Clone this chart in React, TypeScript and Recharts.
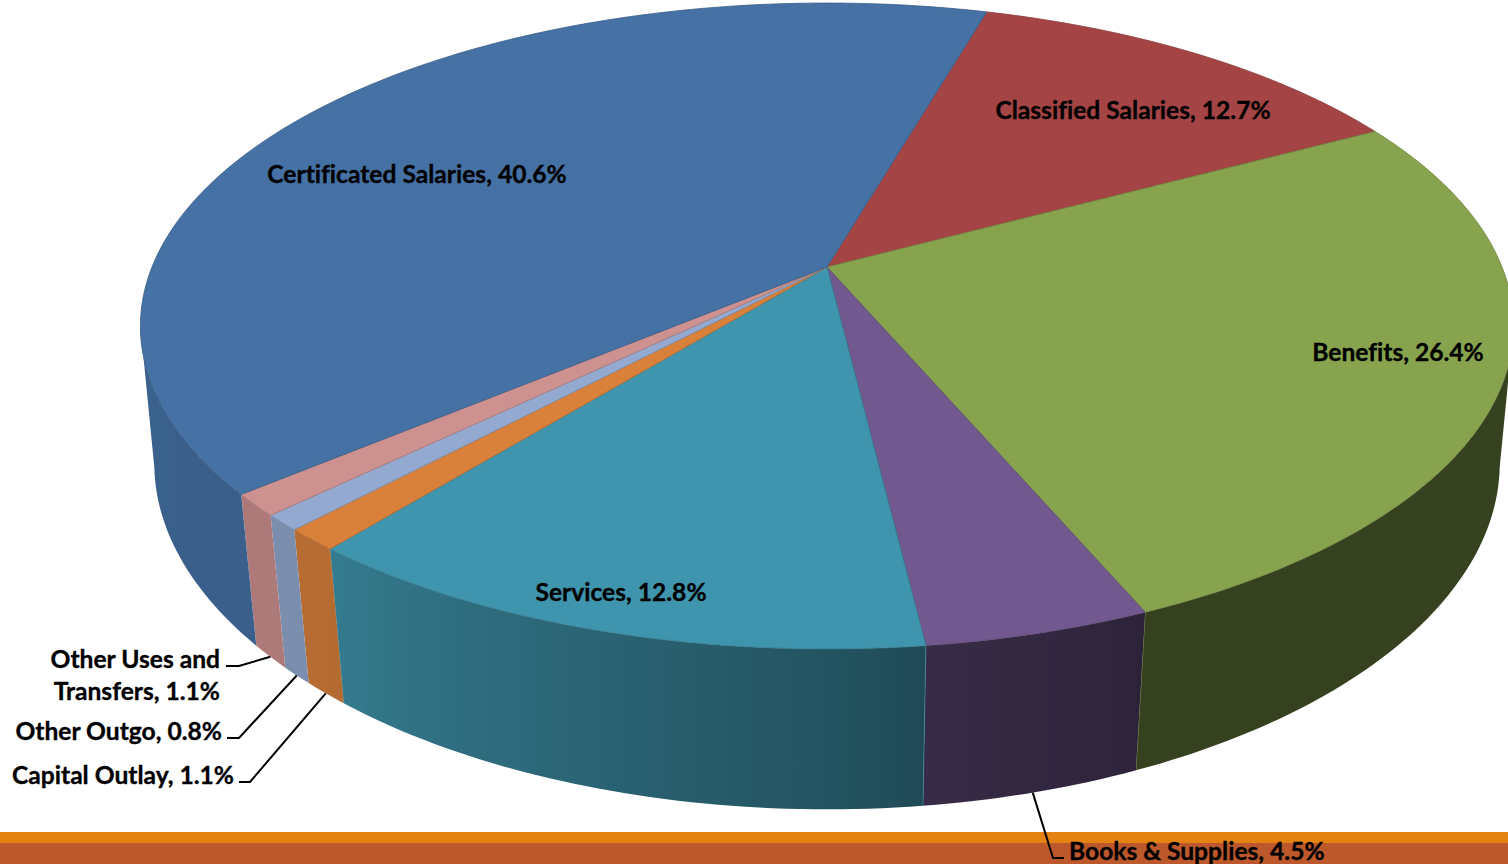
import React from 'react';
import { PieChart, Pie } from 'recharts';

// Expenditure shares, in drawing order clockwise from the first slice.
const CATEGORIES = [
  'Classified Salaries',
  'Benefits',
  'Books & Supplies',
  'Services',
  'Capital Outlay',
  'Other Outgo',
  'Other Uses and Transfers',
  'Certificated Salaries',
];
const SHARES = [12.7, 26.4, 4.5, 12.8, 1.1, 0.8, 1.1, 40.6];
const FACE_COLOURS = ['#A54445', '#87A34E', '#71588F', '#3F95AD', '#D9813B', '#93A9CF', '#CD9190', '#4571A5'];

const rows = CATEGORIES.map((name, i) => ({ name, value: SHARES[i], fill: FACE_COLOURS[i] }));

// Viewing geometry of the tilted disc.
const WIDTH = 1508;
const HEIGHT = 864;
const HUB_X = 827;
const HUB_Y = 267;
const RADIUS = 675;
const FLATTEN = 0.4625;
const PERSPECTIVE = -0.1827;
const BASE_SCALE_X = 0.982;
const BASE_TAPER_X = 0.012;
const BASE_SCALE_Y = 1.059;
const BASE_DROP = 137.8;
const ARC_STEP = 1;
const FIRST_ANGLE = 73.85;

// Wall is visible between the two silhouette angles of the rim.
const WALL_VISIBLE_FROM = -10.53;
const WALL_VISIBLE_TO = -169.47;
const WALL_GRADIENT_STOPS = 14;

// Side wall brightness by clockwise angle from twelve o'clock.
const WALL_SHADE: [number, number][] = [
  [0, 0.4],
  [157, 0.4],
  [158, 0.41],
  [173, 0.49],
  [174, 0.52],
  [218, 0.81],
  [220, 0.84],
  [360, 0.87],
];
const EDGED_WALLS = new Set(['Benefits', 'Services']);

const LABEL_FONT = 'Lato, "Open Sans", sans-serif';
const LABEL_SIZE = 24.6;
const LINE_GAP = 32;

type LabelSpot = { x: number; y: number; anchor: 'start' | 'middle' | 'end'; leader?: [number, number][] };
const LABEL_SPOTS: Record<string, LabelSpot> = {
  'Certificated Salaries': { x: 417, y: 173, anchor: 'middle' },
  'Classified Salaries': { x: 1133, y: 109, anchor: 'middle' },
  Benefits: { x: 1398, y: 351, anchor: 'middle' },
  Services: { x: 621, y: 591, anchor: 'middle' },
  'Other Uses and Transfers': { x: 220, y: 658, anchor: 'end', leader: [[239, 666], [226, 666]] },
  'Other Outgo': { x: 222, y: 730, anchor: 'end', leader: [[239, 738], [227, 738]] },
  'Capital Outlay': { x: 234, y: 774, anchor: 'end', leader: [[250, 782], [239, 782]] },
  'Books & Supplies': { x: 1069, y: 850, anchor: 'start', leader: [[1053, 858], [1064, 858]] },
};

const topPoint = (angle: number): [number, number] => {
  const rad = (angle * Math.PI) / 180;
  const u = Math.cos(rad);
  const v = -Math.sin(rad);
  const d = 1 + PERSPECTIVE * v;
  return [HUB_X + (RADIUS * u) / d, HUB_Y + (RADIUS * FLATTEN * v) / d];
};

const basePoint = (angle: number): [number, number] => {
  const [x, y] = topPoint(angle);
  const v = -Math.sin((angle * Math.PI) / 180);
  const scaleX = BASE_SCALE_X - BASE_TAPER_X * v;
  return [HUB_X + scaleX * (x - HUB_X), HUB_Y + BASE_DROP + BASE_SCALE_Y * (y - HUB_Y)];
};

const shadeAt = (angle: number): number => {
  const clockwise = ((90 - angle) % 360 + 360) % 360;
  for (let i = 1; i < WALL_SHADE.length; i++) {
    const [a0, s0] = WALL_SHADE[i - 1];
    const [a1, s1] = WALL_SHADE[i];
    if (clockwise <= a1) return s0 + ((s1 - s0) * (clockwise - a0)) / (a1 - a0);
  }
  return WALL_SHADE[WALL_SHADE.length - 1][1];
};

const darken = (hex: string, factor: number): string => {
  const n = parseInt(hex.slice(1), 16);
  const c = [(n >> 16) & 255, (n >> 8) & 255, n & 255].map((v) => Math.round(v * factor));
  return `rgb(${c[0]},${c[1]},${c[2]})`;
};

const arcAngles = (start: number, end: number, step = ARC_STEP): number[] => {
  const count = Math.max(1, Math.ceil(Math.abs(end - start) / step));
  return Array.from({ length: count + 1 }, (_, i) => start + ((end - start) * i) / count);
};

const pt = (p: [number, number]) => `${p[0].toFixed(2)},${p[1].toFixed(2)}`;

// Top face of a slice: a wedge from the hub along the projected rim.
const FaceShape = (props: any) => {
  const { startAngle, endAngle, payload } = props;
  const fill = payload?.fill ?? props.fill;
  const rim = arcAngles(startAngle, endAngle).map((a) => pt(topPoint(a)));
  const d = `M${HUB_X},${HUB_Y}L${rim.join('L')}Z`;
  return <path d={d} fill={fill} stroke={darken(fill, 0.82)} strokeWidth={0.8} strokeLinejoin="round" />;
};

// Side wall of a slice: the band between rim and base, shaded left to right.
const WallShape = (props: any) => {
  const { startAngle, endAngle, payload } = props;
  const fill = payload?.fill ?? props.fill;
  const name = payload?.name ?? props.name;
  const from = Math.min(startAngle, WALL_VISIBLE_FROM);
  const to = Math.max(endAngle, WALL_VISIBLE_TO);
  if (from <= to) return <g />;

  const angles = arcAngles(from, to);
  const rim = angles.map((a) => pt(topPoint(a)));
  const base = angles.map((a) => pt(basePoint(a))).reverse();
  const d = `M${rim.join('L')}L${base.join('L')}Z`;

  const midX = (a: number) => (topPoint(a)[0] + basePoint(a)[0]) / 2;
  const sweep = (from - to) / (WALL_GRADIENT_STOPS - 1);
  const stopAngles = Array.from({ length: WALL_GRADIENT_STOPS }, (_, i) => from - i * sweep);
  const xs = stopAngles.map(midX);
  const x0 = Math.min(...xs);
  const x1 = Math.max(...xs);
  const stops = stopAngles
    .map((a) => ({ offset: (midX(a) - x0) / (x1 - x0 || 1), colour: darken(fill, shadeAt(a)) }))
    .sort((p, q) => p.offset - q.offset);
  const id = `wall-${name.replace(/[^a-z]/gi, '')}`;

  const edges = EDGED_WALLS.has(name)
    ? [startAngle, endAngle]
        .filter((a) => a <= WALL_VISIBLE_FROM && a >= WALL_VISIBLE_TO)
        .map((a) => (
          <path key={`e${a}`} d={`M${pt(topPoint(a))}L${pt(basePoint(a))}`} stroke={fill} strokeOpacity={0.6} strokeWidth={1} />
        ))
    : null;

  return (
    <g>
      <defs>
        <linearGradient id={id} gradientUnits="userSpaceOnUse" x1={x0} x2={x1} y1={0} y2={0}>
          {stops.map((s, i) => (
            <stop key={i} offset={s.offset} stopColor={s.colour} />
          ))}
        </linearGradient>
      </defs>
      <path d={d} fill={`url(#${id})`} />
      {edges}
    </g>
  );
};

const labelLines = (name: string, value: number): string[] =>
  name === 'Other Uses and Transfers'
    ? ['Other Uses and', `Transfers, ${value}%`]
    : [`${name}, ${value}%`];

const SliceLabel = (props: any) => {
  const name = CATEGORIES[props.index];
  const value = SHARES[props.index];
  const spot = LABEL_SPOTS[name];
  const points = spot.leader ? [basePoint(props.midAngle), ...spot.leader] : null;
  return (
    <g>
      {points && <polyline points={points.map(pt).join(' ')} fill="none" stroke="#000" strokeWidth={2} />}
      {labelLines(name, value).map((line, i) => (
        <text
          key={line}
          x={spot.x}
          y={spot.y + i * LINE_GAP}
          textAnchor={spot.anchor}
          dominantBaseline="central"
          fontFamily={LABEL_FONT}
          fontWeight={700}
          fontSize={LABEL_SIZE}
          fill="#000"
          stroke="#000"
          strokeWidth={0.35}
          style={{ fontVariantLigatures: 'none' }}
        >
          {line}
        </text>
      ))}
    </g>
  );
};

export default function App() {
  return (
    <div style={{ position: 'absolute', left: 0, top: 0, width: WIDTH, height: HEIGHT, background: '#fff', overflow: 'hidden' }}>
      <div style={{ position: 'absolute', left: 0, top: 832, width: WIDTH, height: 11, background: '#E48312' }} />
      <div style={{ position: 'absolute', left: 0, top: 843, width: WIDTH, height: 21, background: '#BD582C' }} />
      <div style={{ position: 'absolute', left: 0, top: 0 }}>
        <PieChart width={WIDTH} height={HEIGHT} margin={{ top: 0, right: 0, bottom: 0, left: 0 }}>
          <Pie
            data={rows}
            dataKey="value"
            nameKey="name"
            cx={HUB_X}
            cy={HUB_Y}
            outerRadius={RADIUS}
            startAngle={FIRST_ANGLE}
            endAngle={FIRST_ANGLE - 360}
            stroke="none"
            shape={WallShape}
            label={false}
            labelLine={false}
            isAnimationActive={false}
          />
          <Pie
            data={rows}
            dataKey="value"
            nameKey="name"
            cx={HUB_X}
            cy={HUB_Y}
            outerRadius={RADIUS}
            startAngle={FIRST_ANGLE}
            endAngle={FIRST_ANGLE - 360}
            stroke="none"
            shape={FaceShape}
            label={SliceLabel}
            labelLine={false}
            isAnimationActive={false}
          />
        </PieChart>
      </div>
    </div>
  );
}
